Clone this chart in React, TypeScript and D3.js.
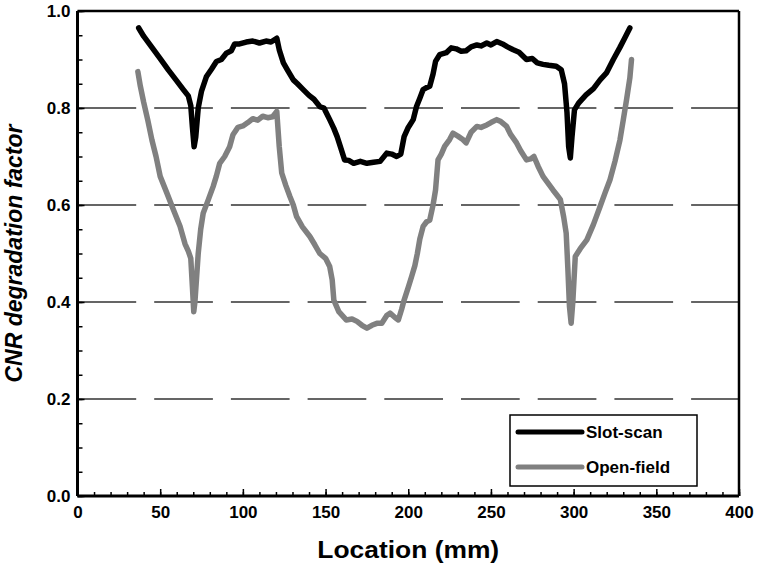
import React, { useEffect, useRef } from "react";
import * as d3 from "d3";

// Slot-scan (black) curve
const slotLoc = [37, 40, 45, 50, 55, 60, 64, 67, 68.5, 69.5, 70.5, 71.5, 73, 75, 78, 81, 84, 87, 90, 93, 95, 98, 102, 106, 110, 114, 117, 120.5,
  122, 124.5, 127, 130.5, 133, 136.5, 140, 143, 146.5, 149, 152.5, 155, 157, 159, 161.5, 164, 167, 171, 175, 179, 183, 187, 190, 193, 195.5,
  197.5, 200, 203, 205, 207, 209, 211, 213, 215, 216.5, 219, 223, 226, 229, 232, 235, 238, 241.5, 244, 247.5, 250, 253.5, 257, 260, 263.5,
  267, 271.5, 275, 278, 281.5, 285, 289.5, 292.5, 294.5, 296, 297, 298, 299, 300.5, 303, 307.5, 312, 316, 320, 324, 328, 331, 334];
const slotVal = [0.965, 0.948, 0.925, 0.902, 0.878, 0.856, 0.838, 0.825, 0.805, 0.76, 0.72, 0.74, 0.8, 0.835, 0.865, 0.88, 0.896, 0.9, 0.913, 0.918, 0.932, 0.932, 0.936, 0.938, 0.934, 0.938, 0.936, 0.944,
  0.92, 0.893, 0.878, 0.858, 0.85, 0.838, 0.826, 0.818, 0.803, 0.8, 0.776, 0.758, 0.741, 0.72, 0.693, 0.692, 0.686, 0.69, 0.686, 0.688, 0.69, 0.707, 0.705, 0.7, 0.705,
  0.741, 0.76, 0.776, 0.803, 0.82, 0.838, 0.842, 0.845, 0.87, 0.896, 0.91, 0.914, 0.924, 0.922, 0.917, 0.918, 0.926, 0.93, 0.928, 0.934, 0.93, 0.937, 0.932, 0.926, 0.92,
  0.915, 0.9, 0.902, 0.893, 0.89, 0.888, 0.886, 0.879, 0.85, 0.79, 0.72, 0.697, 0.74, 0.796, 0.81, 0.827, 0.84, 0.858, 0.873, 0.9, 0.925, 0.945, 0.965];

// Open-field (grey) curve
const openLoc = [36.5, 38, 40, 42.5, 45, 47.5, 50, 54, 58, 62, 65, 67, 68.5, 69.5, 70.3, 71, 72, 73, 74.5, 76, 79, 82, 84, 86, 89, 92, 94, 97, 100, 103, 106,
  109, 112, 115, 118, 120.5, 122, 123.5, 126, 128.5, 130.5, 132.5, 136, 140.5, 143.5, 146.5, 150, 152.5, 154, 155, 158, 162.5, 166, 169, 172, 175, 178, 181, 184,
  187, 189, 192, 194, 196, 197.5, 200, 202, 204, 205.5, 207, 209, 211, 213, 215, 216.5, 218, 220, 222, 225, 227, 230, 233, 235, 238, 241.5, 244, 247.5, 250,
  253.5, 256, 259.5, 262, 265.5, 268, 271.5, 274, 276, 278.5, 281.5, 284.5, 287.5, 290, 292, 294, 295.5, 296.5, 297.5, 298.5, 299.5, 301, 304, 308, 312,
  316, 319, 322, 325, 328, 330, 332, 334, 335];
const openVal = [0.875, 0.845, 0.812, 0.775, 0.734, 0.7, 0.659, 0.625, 0.59, 0.556, 0.52, 0.505, 0.49, 0.43, 0.38, 0.4, 0.45, 0.5, 0.55, 0.583, 0.61, 0.638, 0.66, 0.686, 0.7, 0.72, 0.745, 0.76, 0.763, 0.77, 0.778,
  0.775, 0.783, 0.78, 0.782, 0.793, 0.72, 0.666, 0.64, 0.617, 0.6, 0.576, 0.555, 0.535, 0.518, 0.5, 0.49, 0.473, 0.446, 0.404, 0.38, 0.363, 0.365, 0.36, 0.352, 0.346, 0.352, 0.356, 0.356,
  0.372, 0.377, 0.368, 0.363, 0.385, 0.404, 0.43, 0.452, 0.475, 0.5, 0.53, 0.556, 0.565, 0.569, 0.6, 0.631, 0.693, 0.705, 0.721, 0.735, 0.748, 0.742, 0.735, 0.728, 0.75, 0.762, 0.76, 0.765, 0.77,
  0.776, 0.772, 0.762, 0.745, 0.728, 0.712, 0.693, 0.695, 0.7, 0.68, 0.659, 0.645, 0.631, 0.62, 0.611, 0.575, 0.542, 0.47, 0.39, 0.356, 0.4, 0.494, 0.51, 0.528, 0.56,
  0.597, 0.625, 0.652, 0.69, 0.734, 0.775, 0.817, 0.862, 0.9];

const xTicks = [0, 50, 100, 150, 200, 250, 300, 350, 400];
const yTicks = [0.0, 0.2, 0.4, 0.6, 0.8, 1.0];
const gridValues = [0.2, 0.4, 0.6, 0.8];
const seriesNames = ["Slot-scan", "Open-field"];
const seriesColors = ["#000000", "#808080"];

const W = 759;
const H = 566;
const FONT = "'Liberation Sans', Arial, sans-serif";

export default function App() {
  const svgRef = useRef<SVGSVGElement>(null);

  useEffect(() => {
    document.body.style.margin = "0";
    const svg = d3.select(svgRef.current);
    svg.selectAll("*").remove();

    const margin = { top: 11, right: 20, bottom: 70, left: 77.5 };
    const width = 739 - margin.left;
    const height = 496 - margin.top;

    const x = d3.scaleLinear().domain([0, 400]).range([0, width]);
    const y = d3.scaleLinear().domain([0, 1]).range([height, 0]);

    const g = svg.append("g").attr("transform", `translate(${margin.left},${margin.top})`);

    // dashed grid lines
    g.selectAll(".grid")
      .data(gridValues)
      .enter()
      .append("line")
      .attr("x1", 0)
      .attr("x2", width)
      .attr("y1", (d) => y(d))
      .attr("y2", (d) => y(d))
      .attr("stroke", "#333")
      .attr("stroke-width", 1.3)
      .attr("stroke-dasharray", "58.7,18");

    // frame (top, right)
    g.append("line").attr("x1", 0).attr("x2", width).attr("y1", 0).attr("y2", 0)
      .attr("stroke", "#000").attr("stroke-width", 2.5);
    g.append("line").attr("x1", width).attr("x2", width).attr("y1", 0).attr("y2", height)
      .attr("stroke", "#000").attr("stroke-width", 2.5);

    const styleAxis = (sel: any, labels: boolean) => {
      sel.select(".domain").remove();
      sel.selectAll(".tick line").attr("stroke", "#000").attr("stroke-width", 1.5);
      if (labels) {
        sel.selectAll(".tick text")
          .attr("font-family", FONT)
          .attr("font-weight", "bold")
          .attr("font-size", 17)
          .attr("fill", "#000");
      } else {
        sel.selectAll(".tick text").remove();
      }
    };

    // x minor ticks
    g.append("g")
      .attr("transform", `translate(0,${height})`)
      .call(d3.axisBottom(x).tickValues(d3.range(0, 401, 10)).tickSize(-4))
      .call((s: any) => styleAxis(s, false));
    // x major ticks
    g.append("g")
      .attr("transform", `translate(0,${height})`)
      .call(d3.axisBottom(x).tickValues(xTicks).tickSize(-7).tickPadding(10).tickFormat(d3.format("d")))
      .call((s: any) => styleAxis(s, true));

    // y minor ticks
    g.append("g")
      .call(d3.axisLeft(y).tickValues(d3.range(0, 1.001, 0.05)).tickSize(-5))
      .call((s: any) => styleAxis(s, false));
    // y major ticks
    g.append("g")
      .call(d3.axisLeft(y).tickValues(yTicks).tickSize(-7).tickPadding(7).tickFormat(d3.format(".1f")))
      .call((s: any) => styleAxis(s, true));

    // axis lines (left, bottom)
    g.append("line").attr("x1", 0).attr("x2", 0).attr("y1", 0).attr("y2", height)
      .attr("stroke", "#000").attr("stroke-width", 3);
    g.append("line").attr("x1", 0).attr("x2", width).attr("y1", height).attr("y2", height)
      .attr("stroke", "#000").attr("stroke-width", 3);

    const line = d3.line<[number, number]>()
      .x((d) => x(d[0]))
      .y((d) => y(d[1]))
      .curve(d3.curveLinear);

    const series = [
      d3.zip(openLoc, openVal) as [number, number][],
      d3.zip(slotLoc, slotVal) as [number, number][],
    ];
    const seriesColorOrder = [seriesColors[1], seriesColors[0]];

    series.forEach((pts, i) => {
      g.append("path")
        .datum(pts)
        .attr("d", line)
        .attr("fill", "none")
        .attr("stroke", seriesColorOrder[i])
        .attr("stroke-width", 5.5)
        .attr("stroke-linejoin", "round")
        .attr("stroke-linecap", "round");
    });

    // legend
    const lg = svg.append("g");
    lg.append("rect")
      .attr("x", 510)
      .attr("y", 415)
      .attr("width", 187)
      .attr("height", 71)
      .attr("fill", "#fff")
      .attr("stroke", "#000")
      .attr("stroke-width", 1.5);
    seriesNames.forEach((name, i) => {
      const ly = 432 + i * 35;
      lg.append("line")
        .attr("x1", 518)
        .attr("x2", 582)
        .attr("y1", ly)
        .attr("y2", ly)
        .attr("stroke", seriesColors[i])
        .attr("stroke-width", 5)
        .attr("stroke-linecap", "round");
      lg.append("text")
        .attr("x", 586)
        .attr("y", ly + 6)
        .attr("font-family", FONT)
        .attr("font-weight", "bold")
        .attr("font-size", 17)
        .text(name);
    });

    // axis titles
    svg.append("text")
      .attr("transform", `translate(${margin.left + width / 2},558) scale(1.1,1)`)
      .attr("text-anchor", "middle")
      .attr("font-family", FONT)
      .attr("font-weight", "bold")
      .attr("font-size", 24)
      .text("Location (mm)");

    svg.append("text")
      .attr("transform", `translate(22,${margin.top + height / 2}) rotate(-90)`)
      .attr("text-anchor", "middle")
      .attr("font-family", FONT)
      .attr("font-weight", "bold")
      .attr("font-style", "italic")
      .attr("font-size", 23)
      .text("CNR degradation factor");
  }, []);

  return <svg ref={svgRef} width={W} height={H} style={{ display: "block", background: "#fff" }} />;
}
